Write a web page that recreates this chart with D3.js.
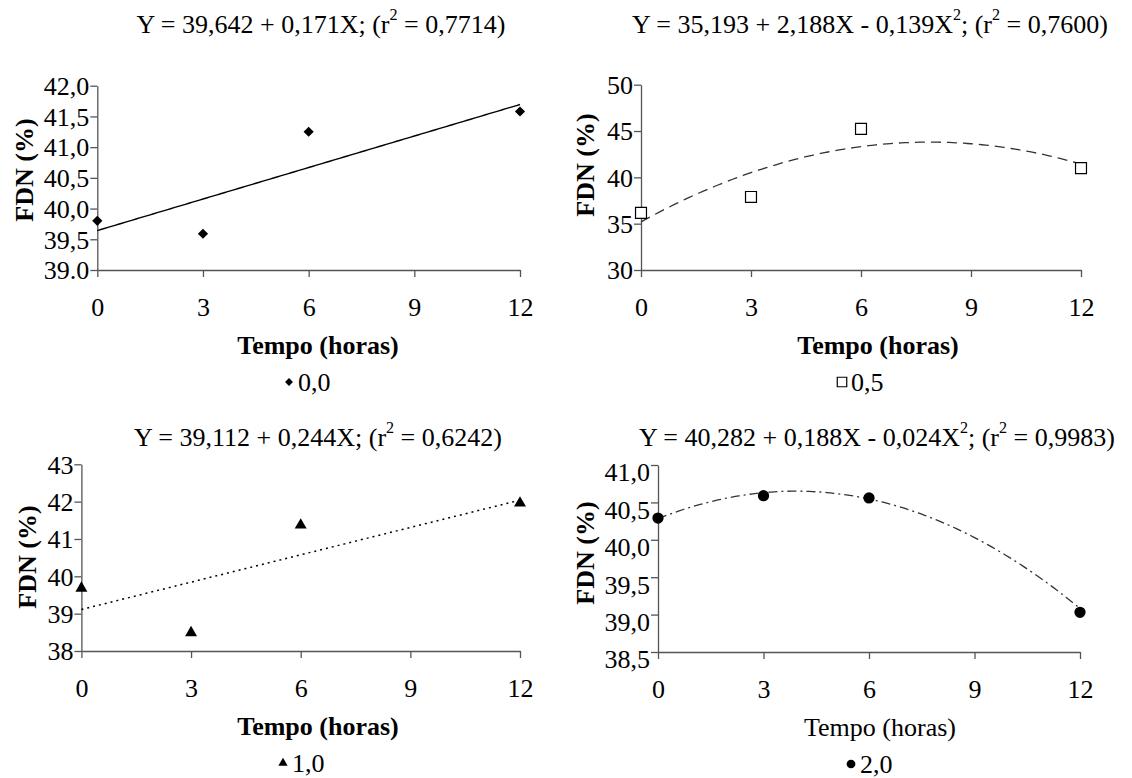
<!DOCTYPE html>
<html>
<head>
<meta charset="utf-8">
<script src="https://cdn.jsdelivr.net/npm/d3@7"></script>
<style>
  body { margin: 0; background: #fff; }
  svg { display: block; }
  svg text { font-family: "Liberation Serif", "Times New Roman", Tinos, "Nimbus Roman", "DejaVu Serif", serif !important; fill: #000; }
</style>
</head>
<body>
<svg id="chart" width="1132" height="778"></svg>
<script>
// Sampling times (hours) and axis ticks
const hours = [0, 3, 6, 12];
const xTicks = [0, 3, 6, 9, 12];

// FDN (%) observed at each time, one series per level
const fdn00 = [39.80, 39.59, 41.25, 41.58];
const fdn05 = [36.16, 37.88, 45.23, 41.00];
const fdn10 = [39.68, 38.49, 41.37, 41.96];
const fdn20 = [40.29, 40.59, 40.56, 39.03];

// Fitted regression coefficients: Y = a + bX + cX²
const coef00 = [39.642, 0.171, 0];
const coef05 = [35.193, 2.188, -0.139];
const coef10 = [39.112, 0.244, 0];
const coef20 = [40.282, 0.188, -0.024];
const r2Labels = ["0,7714", "0,7600", "0,6242", "0,9983"];
const legendLabels = ["0,0", "0,5", "1,0", "2,0"];

// Y tick values and their printed labels
const yTicks00 = [39, 39.5, 40, 40.5, 41, 41.5, 42];
const yLabels00 = ["39.0", "39,5", "40,0", "40,5", "41,0", "41,5", "42,0"];
const yTicks05 = [30, 35, 40, 45, 50];
const yLabels05 = ["30", "35", "40", "45", "50"];
const yTicks10 = [38, 39, 40, 41, 42, 43];
const yLabels10 = ["38", "39", "40", "41", "42", "43"];
const yTicks20 = [38.5, 39, 39.5, 40, 40.5, 41];
const yLabels20 = ["38,5", "39,0", "39,5", "40,0", "40,5", "41,0"];

const svg = d3.select("#chart");
const FONT = 26;

const panels = [
  { values: fdn00, coef: coef00, r2: r2Labels[0], legend: legendLabels[0],
    yTicks: yTicks00, yLabels: yLabels00, yDomain: [39, 42],
    xRange: [97.3, 520], yRange: [270, 85.7],
    titleX: 321, titleY: 24, yTitleX: 24, yTitleY: 170, xTitleX: 318, legendX: 311,
    xTitleBold: true, labelShift: 0,
    marker: "diamond", curve: { stroke: "#000", dash: null, width: 1.4 } },
  { values: fdn05, coef: coef05, r2: r2Labels[1], legend: legendLabels[1],
    yTicks: yTicks05, yLabels: yLabels05, yDomain: [30, 50],
    xRange: [641, 1081], yRange: [270, 84.7],
    titleX: 870, titleY: 24, yTitleX: 585, yTitleY: 165, xTitleX: 878, legendX: 864,
    xTitleBold: true, labelShift: 0,
    marker: "square", curve: { stroke: "#333", dash: "10,6", width: 1.3 } },
  { values: fdn10, coef: coef10, r2: r2Labels[2], legend: legendLabels[2],
    yTicks: yTicks10, yLabels: yLabels10, yDomain: [38, 43],
    xRange: [81.4, 520], yRange: [651, 464.3],
    titleX: 318, titleY: 437, yTitleX: 27, yTitleY: 557, xTitleX: 318, legendX: 305,
    xTitleBold: true, labelShift: 0,
    marker: "triangle", curve: { stroke: "#000", dash: "2,4", width: 1.5 } },
  { values: fdn20, coef: coef20, r2: r2Labels[3], legend: legendLabels[3],
    yTicks: yTicks20, yLabels: yLabels20, yDomain: [38.5, 41],
    xRange: [658, 1080], yRange: [652, 465],
    titleX: 877, titleY: 437, yTitleX: 585, yTitleY: 553, xTitleX: 880, legendX: 873,
    xTitleBold: false, labelShift: 7,
    marker: "circle", curve: { stroke: "#333", dash: "9,4,2,4", width: 1.3 } }
];

function fmt(v) { return v.toFixed(3).replace(".", ","); }

// Marker glyphs; the diamond is a square turned 45 degrees
function markerPath(kind, small) {
  const k = small ? 0.6 : 1;
  if (kind === "diamond") return d3.symbol(d3.symbolSquare, 52 * k)();
  if (kind === "square") return d3.symbol(d3.symbolSquare, 120 * (small ? 0.75 : 1))();
  if (kind === "triangle") return d3.symbol(d3.symbolTriangle, 62 * k)();
  return d3.symbol(d3.symbolCircle, 100 * k)();
}

function markerRotate(kind) { return kind === "diamond" ? " rotate(45)" : ""; }

function styleMarker(sel, kind) {
  if (kind === "square") sel.attr("fill", "#fff").attr("stroke", "#000").attr("stroke-width", 1.2);
  else sel.attr("fill", "#000");
}

panels.forEach(p => {
  const g = svg.append("g");
  const x = d3.scaleLinear().domain([0, 12]).range(p.xRange);
  const y = d3.scaleLinear().domain(p.yDomain).range(p.yRange);
  const axisY = p.yRange[0];

  // Equation title
  const t = g.append("text")
    .attr("x", p.titleX).attr("y", p.titleY)
    .attr("text-anchor", "middle").attr("dominant-baseline", "central")
    .attr("font-size", FONT);
  let eq = "Y = " + fmt(p.coef[0]) + " + " + fmt(p.coef[1]) + "X";
  if (p.coef[2] !== 0) {
    eq += " - " + fmt(Math.abs(p.coef[2])) + "X";
    t.append("tspan").text(eq);
    t.append("tspan").attr("font-size", FONT * 0.62).attr("dy", -10).text("2");
    t.append("tspan").attr("dy", 10).text("; (r");
  } else {
    t.append("tspan").text(eq + "; (r");
  }
  t.append("tspan").attr("font-size", FONT * 0.62).attr("dy", -10).text("2");
  t.append("tspan").attr("dy", 10).text(" = " + p.r2 + ")");

  // Y axis
  const yAxis = d3.axisLeft(y)
    .tickValues(p.yTicks)
    .tickFormat((d, i) => p.yLabels[i])
    .tickSize(7).tickSizeOuter(0).tickPadding(1);
  const gy = g.append("g")
    .attr("transform", `translate(${p.xRange[0]},0)`)
    .call(yAxis);
  gy.select(".domain").attr("stroke", "#555").attr("stroke-width", 1.3);
  gy.selectAll(".tick line").attr("stroke", "#555").attr("stroke-width", 1.3);
  gy.selectAll(".tick text")
    .attr("font-size", FONT).attr("fill", "#000")
    .attr("dy", "0.34em")
    .attr("transform", `translate(0,${p.labelShift})`);

  // X axis
  const xAxis = d3.axisBottom(x)
    .tickValues(xTicks).tickFormat(d3.format("d"))
    .tickSize(7).tickSizeOuter(0);
  const gx = g.append("g")
    .attr("transform", `translate(0,${axisY})`)
    .call(xAxis);
  gx.select(".domain").attr("stroke", "#555").attr("stroke-width", 1.3);
  gx.selectAll(".tick line").attr("stroke", "#555").attr("stroke-width", 1.3);
  gx.selectAll(".tick text")
    .attr("font-size", FONT).attr("fill", "#000")
    .attr("y", 37).attr("dy", "0.34em");

  // Axis titles
  g.append("text")
    .attr("transform", `translate(${p.yTitleX},${p.yTitleY}) rotate(-90)`)
    .attr("text-anchor", "middle").attr("dominant-baseline", "central")
    .attr("font-size", FONT).attr("font-weight", "bold")
    .text("FDN (%)");
  g.append("text")
    .attr("x", p.xTitleX).attr("y", axisY + 75)
    .attr("text-anchor", "middle").attr("dominant-baseline", "central")
    .attr("font-size", FONT).attr("font-weight", p.xTitleBold ? "bold" : "normal")
    .text("Tempo (horas)");

  // Fitted curve
  const fit = d3.range(0, 12.001, 0.1).map(v => [v, p.coef[0] + p.coef[1] * v + p.coef[2] * v * v]);
  g.append("path")
    .datum(fit)
    .attr("fill", "none")
    .attr("stroke", p.curve.stroke)
    .attr("stroke-width", p.curve.width)
    .attr("stroke-dasharray", p.curve.dash)
    .attr("d", d3.line().x(d => x(d[0])).y(d => y(d[1])));

  // Observed points
  const pts = g.selectAll(".pt").data(hours.map((h, i) => [h, p.values[i]]))
    .join("path")
    .attr("class", "pt")
    .attr("transform", d => `translate(${x(d[0])},${y(d[1])})` + markerRotate(p.marker))
    .attr("d", markerPath(p.marker, false));
  styleMarker(pts, p.marker);

  // Legend
  const ly = axisY + 112;
  const lg = g.append("g").attr("transform", `translate(${p.legendX},${ly})`);
  const lm = lg.append("path")
    .attr("transform", "translate(-22,0)" + markerRotate(p.marker))
    .attr("d", markerPath(p.marker, true));
  styleMarker(lm, p.marker);
  lg.append("text")
    .attr("x", -13).attr("dominant-baseline", "central")
    .attr("font-size", FONT)
    .text(p.legend);
});
</script>
</body>
</html>
